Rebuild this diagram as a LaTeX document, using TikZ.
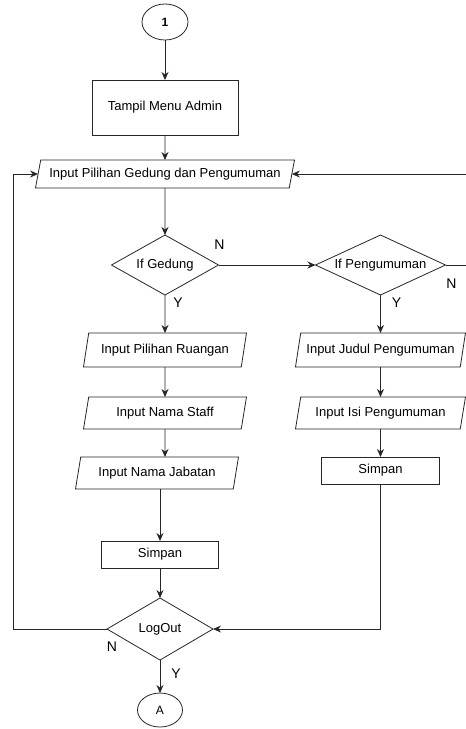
\documentclass[tikz,border=0pt]{standalone}
\usepackage{fontspec}
\setmainfont{Liberation Sans}
\usetikzlibrary{positioning, calc, arrows.meta, shapes.geometric}
\tikzset{fbase/.style={draw=black!85, line width=0.8pt, outer sep=0pt, inner sep=2pt, align=center, font=\fontsize{13}{15}\selectfont}}
\tikzset{dterm/.style={fbase, ellipse, minimum width=46pt, minimum height=36pt, inner sep=0pt, font=\fontsize{12}{14}\selectfont}}
\tikzset{dproc/.style={fbase, rectangle}}
\tikzset{dio/.style={fbase, trapezium, trapezium left angle=72, trapezium right angle=108, trapezium stretches body}}
\tikzset{ddec/.style={fbase, diamond, aspect=2, inner sep=0pt}}
\tikzset{arr/.style={draw=black!85, line width=0.8pt, -{Stealth[length=8pt, width=7pt]}}}
\tikzset{lbl/.style={inner sep=0pt, font=\fontsize{14}{16}\selectfont}}

\begin{document}
\begin{tikzpicture}[x=1pt, y=-1pt]
	\useasboundingbox (0,0) rectangle (466,729);
	% left column
	\node[dterm] (one) at (165,22) {\textbf{1}};
	\node[dproc, below=40pt of one, minimum width=146pt, minimum height=55pt] (menu) {Tampil Menu Admin};
	\node[dio, below=25pt of menu, minimum width=259pt, minimum height=28pt] (pil) {Input Pilihan Gedung dan Pengumuman};
	\node[ddec, below=47pt of pil, minimum width=107pt, minimum height=60pt] (ifg) {If Gedung};
	\node[dio, below=38pt of ifg, minimum width=163pt, minimum height=34pt] (ruang) {Input Pilihan Ruangan};
	\node[dio, below=30pt of ruang, minimum width=163pt, minimum height=32pt] (staff) {Input Nama Staff};
	\node[dio, below=28pt of staff, xshift=-8pt, minimum width=163pt, minimum height=32pt] (jab) {Input Nama Jabatan};
	\node[dproc, below=52pt of jab, xshift=3pt, minimum width=117pt, minimum height=27pt] (simpanL) {Simpan};
	\node[ddec, below=30pt of simpanL, minimum width=106pt, minimum height=62pt] (logout) {LogOut};
	\node[dterm, below=33pt of logout, minimum width=45pt, minimum height=34pt] (endA) {A};
	% right column
	\node[ddec, right=97pt of ifg, minimum width=130pt, minimum height=60pt] (ifp) {If Pengumuman};
	\node[dio, below=38pt of ifp, minimum width=170pt, minimum height=34pt] (judul) {Input Judul Pengumuman};
	\node[dio, below=30pt of judul, minimum width=170pt, minimum height=32pt] (isi) {Input Isi Pengumuman};
	\node[dproc, below=28pt of isi, minimum width=118pt, minimum height=27pt] (simpanR) {Simpan};
	\coordinate (lft) at (13,0);
	\coordinate (rgt) at (472,0);

	\draw[arr] (one) -- (menu);
	\draw[arr] (menu) -- (pil);
	\draw[arr] (pil) -- (ifg);
	\draw[arr] (ifg) -- node[lbl, at start, xshift=1pt, yshift=20pt]{N} (ifp);
	\draw[arr] (ifg) -- node[lbl, at start, xshift=13pt, yshift=-8pt]{Y} (ruang);
	\draw[arr] (ruang) -- (staff);
	\draw[arr] (staff) -- (staff |- jab.north);
	\draw[arr] (jab.south -| simpanL) -- (simpanL);
	\draw[arr] (simpanL) -- (logout);
	\draw[arr] (logout) -- node[lbl, at start, xshift=16pt, yshift=-14pt]{Y} (endA);
	\draw[arr] (logout.west) node[lbl, xshift=5pt, yshift=-18pt]{N}
		-| (lft |- pil.west) -- (pil.west);
	\draw[arr] (ifp) -- node[lbl, at start, xshift=16pt, yshift=-8pt]{Y} (judul);
	\draw[arr] (judul) -- (isi);
	\draw[arr] (isi) -- (simpanR);
	\draw[arr] (simpanR) |- (logout);
	\draw[arr] (ifp.east) node[lbl, xshift=6pt, yshift=-19pt]{N}
		-- (rgt |- ifp.east) |- (pil.east);
\end{tikzpicture}
\end{document}
